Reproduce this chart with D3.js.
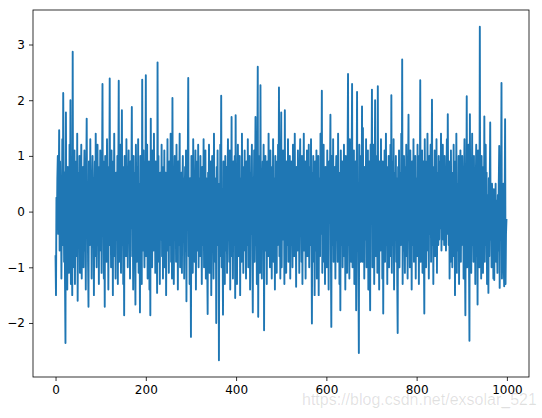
<!DOCTYPE html>
<html>
<head>
<meta charset="utf-8">
<script src="https://cdn.jsdelivr.net/npm/d3@7"></script>
<style>
  body { margin: 0; background: #fff; }
  svg text { font-family: "DejaVu Sans", sans-serif; }
</style>
</head>
<body>
<div id="vis"></div>
<script>
// values, 20 per row (index 0..999)
var series_values = [].concat(
  [-0.8,-1.5,0.25,-0.3,0.6,1.0,-0.4,0.3,1.46,-0.7,0.9,-0.2,0.4,-1.2,0.1,1.3,-0.6,2.13,0.5,-0.9],
  [0.7,-1.3,-2.36,1.78,-0.5,0.2,-1.4,0.8,-0.1,0.6,-1.1,1.2,-0.7,2.0,-1.3,0.4,-0.2,-1.5,2.87,-1.0],
  [0.3,-0.6,1.1,-1.3,0.5,-0.2,0.9,-0.8,1.4,-1.6,0.2,0.7,-0.4,1.0,-1.1,0.3,-0.5,1.2,-1.2,0.6],
  [-0.3,0.8,-1.0,0.4,1.1,-0.7,0.2,-1.4,0.6,1.67,-0.2,0.5,-0.9,-1.71,0.9,0.1,-0.6,1.3,-0.4,0.7],
  [-1.2,0.4,1.0,-0.3,0.6,-1.5,0.2,0.9,-0.8,1.4,-0.1,-1.0,0.5,1.2,-0.6,0.3,-1.3,0.8,-0.2,1.1],
  [-0.7,0.4,-1.1,0.6,2.29,-0.4,0.9,-1.2,0.3,-1.71,1.0,-0.5,0.7,-0.9,1.3,-0.2,0.5,-1.4,0.8,0.1],
  [2.39,-0.6,0.3,-1.0,1.1,-0.3,0.6,-1.5,0.9,-0.1,1.4,-0.8,0.2,-1.2,0.7,0.4,-0.5,1.0,-1.3,0.5],
  [2.35,-0.9,0.6,-0.4,1.2,-1.1,0.3,1.82,-0.6,0.8,-1.3,0.2,-1.86,1.0,-0.3,0.5,-0.8,1.3,-0.2,0.7],
  [-1.0,0.4,1.1,-0.5,0.2,-1.2,0.9,-0.3,0.6,1.88,-0.8,0.3,-1.4,1.0,-0.1,0.7,-0.6,-1.67,1.2,0.2],
  [-0.9,0.8,-0.3,1.3,-1.1,0.5,0.1,-1.81,1.0,-0.4,0.6,-1.3,2.37,-0.7,0.4,1.1,-0.2,-1.0,0.9,-0.5],
  [2.45,-0.8,0.3,1.2,-1.2,0.6,-0.3,0.9,-1.4,0.2,-1.86,1.67,-0.5,0.4,-1.0,1.1,0.1,-0.7,1.4,-0.2],
  [0.6,-1.1,0.9,-0.4,0.3,-1.46,2.68,-0.6,1.0,-0.9,0.4,-1.3,0.7,0.1,-0.5,1.2,-0.8,0.5,-1.2,0.8],
  [-0.3,1.1,-1.0,0.2,0.7,-1.5,0.4,-0.2,1.3,-0.7,0.5,-1.1,0.9,0.1,-0.6,1.4,-0.9,0.3,-1.2,2.04],
  [-0.5,0.8,-1.3,0.3,1.0,-0.4,0.6,-0.9,1.2,-0.2,0.4,-1.4,0.9,-0.6,0.2,1.4,-1.0,0.5,-0.3,0.7],
  [-1.1,0.3,1.0,-0.5,0.6,-1.2,0.1,0.8,-0.7,1.1,-1.61,0.5,-0.2,0.9,2.40,-0.8,0.3,-1.3,0.6,-0.4],
  [-2.25,1.0,-0.6,0.4,-1.1,1.3,-0.3,0.7,-0.9,0.2,1.1,-1.4,0.5,-0.2,0.9,-0.7,1.2,-1.0,0.3,0.6],
  [-0.8,1.0,-0.4,0.2,-1.3,0.8,0.4,-0.6,1.3,-1.0,0.3,-0.2,1.1,-1.2,0.6,0.1,-0.9,-1.84,0.7,-0.3],
  [1.2,-1.1,0.5,-0.4,0.9,-1.5,0.3,1.0,-0.7,0.2,-1.2,1.4,-0.3,0.6,-0.9,0.4,-2.0,0.8,-0.5,1.1],
  [-0.6,0.3,-2.67,0.5,-0.8,1.2,-0.2,2.08,-1.0,0.4,-0.4,-1.85,0.9,-0.1,0.6,-1.3,1.0,-0.7,0.2,0.8],
  [-1.1,0.5,1.3,-0.4,0.1,-0.9,1.1,-1.4,0.7,-0.3,1.70,-0.8,0.4,-1.2,0.9,0.2,-0.6,1.0,-1.55,1.73],
  [-0.5,0.7,-1.3,0.3,1.2,-0.8,0.5,-0.2,1.0,-1.5,0.6,0.1,-0.9,1.4,-0.4,0.8,-1.1,0.3,-0.3,1.1],
  [-0.7,0.5,-1.2,0.9,0.2,-0.6,1.3,-1.0,0.4,-0.1,1.0,-1.4,0.7,-0.4,0.3,1.2,-0.8,-1.81,0.6,-0.2],
  [1.1,-0.9,0.4,1.70,-0.6,0.2,-1.3,0.8,2.60,-1.89,0.5,-0.3,1.0,-1.1,2.27,-0.5,0.7,-1.2,0.3,0.9],
  [-0.4,1.2,-2.13,0.6,-0.7,1.0,-0.2,0.4,-1.3,0.9,0.1,-0.8,1.4,-0.5,0.3,-1.0,1.1,-0.3,0.6,-1.2],
  [0.8,-0.4,1.3,-0.9,0.2,0.6,-1.4,1.0,-0.1,0.5,-1.1,0.9,-0.6,1.2,-0.3,2.23,-0.8,0.4,-1.2,0.7],
  [1.78,-1.0,0.3,-0.5,1.1,-0.2,0.6,-1.3,1.82,-0.7,0.4,-1.1,0.9,0.1,-0.6,1.3,-0.9,0.5,-0.3,1.0],
  [-1.2,0.4,0.9,-0.6,0.2,-1.0,1.2,-0.3,0.6,-0.8,1.4,-0.5,0.3,-1.35,0.8,0.1,-0.7,1.1,-0.2,0.5],
  [-1.1,0.7,1.3,-0.4,0.3,-0.9,1.0,-1.3,0.5,-0.1,1.4,-0.7,0.2,0.9,-1.2,0.6,-0.4,1.1,-0.8,0.3],
  [-0.5,1.2,-1.0,0.4,0.8,-0.6,1.3,-0.2,-2.01,0.7,-0.9,1.0,-0.3,0.5,-1.5,0.9,0.2,-0.7,1.1,-1.2],
  [0.4,-0.3,1.0,-1.5,0.6,0.1,-0.8,1.4,-0.4,0.3,2.17,-1.1,0.7,-0.5,1.2,-0.9,0.2,-1.3,0.8,-0.1],
  [0.5,-1.0,1.1,-0.4,0.3,-1.4,0.9,-0.2,0.6,1.74,-0.7,-2.07,1.0,0.2,-0.6,1.3,-0.9,0.4,-0.3,0.8],
  [-1.2,0.6,1.0,-0.5,0.2,-0.9,1.4,-0.3,0.7,-1.3,0.4,-1.77,1.1,0.1,-0.6,0.9,-1.0,0.5,-0.2,1.2],
  [-0.8,0.3,-1.4,1.0,-0.4,0.6,-1.1,0.9,2.47,-0.6,0.2,-1.2,1.3,-0.3,0.5,-0.9,0.8,2.29,-1.0,0.4],
  [-0.5,1.1,-1.3,0.7,-0.2,0.9,-1.77,0.3,2.15,-0.7,0.5,-1.1,-2.54,1.2,-0.4,0.6,-0.9,1.0,-0.3,1.89],
  [-0.9,1.5,-0.6,0.4,-1.2,0.8,0.2,-0.5,1.3,-1.0,0.6,-0.3,1.1,-1.4,0.5,0.9,-0.8,-1.77,1.2,-0.2],
  [0.6,2.19,-1.0,0.4,-0.6,1.2,-1.3,0.3,2.0,-0.8,0.7,-0.2,1.0,-1.1,2.25,-0.5,0.4,-1.4,0.9,0.1],
  [-0.7,1.3,-0.4,0.6,-1.2,0.9,-1.83,0.5,-0.1,1.1,-0.9,0.3,1.4,-0.6,0.2,-1.3,0.8,-0.3,1.0,-1.0],
  [0.5,-0.5,1.2,-0.8,2.09,-1.1,0.4,0.9,-0.6,1.3,-1.4,0.2,0.7,-0.3,1.0,-0.9,0.6,-1.2,-2.18,0.8],
  [-0.4,1.1,-1.0,0.3,0.7,-0.6,1.4,-0.2,2.73,-1.3,0.5,-0.7,1.0,0.1,-1.1,0.8,-0.4,1.2,-0.8,0.4],
  [-1.2,0.6,1.74,-0.5,0.3,-1.0,1.1,-0.2,0.7,-1.4,0.9,0.2,-0.6,1.3,-0.9,0.4,-0.3,1.0,-1.2,0.6],
  [0.2,-0.8,1.2,-0.4,0.7,-1.3,1.0,-0.1,2.36,-0.9,0.5,-0.5,1.1,-1.1,0.3,0.9,-0.6,-1.83,1.3,-0.2],
  [0.6,-1.0,0.9,-0.3,1.4,-0.7,0.2,-1.2,1.0,-0.4,0.5,1.2,-0.9,0.3,2.01,-0.6,0.8,-1.3,0.4,-0.1],
  [1.1,-0.8,0.5,-0.4,1.3,-1.1,0.7,0.1,-0.6,1.0,-0.5,0.4,0.9,-0.3,1.4,-0.7,0.2,-0.4,1.2,-0.5],
  [0.3,-0.6,1.0,-0.2,0.8,-0.7,0.5,1.3,-0.4,1.75,0.2,-0.6,0.9,-1.2,0.4,-0.9,1.1,-0.3,0.6,-1.0],
  [0.7,-0.5,1.2,-0.8,0.3,-1.5,0.9,-0.2,1.4,-1.1,0.5,0.1,-0.7,1.0,-1.3,0.6,-0.4,1.1,-0.9,0.4],
  [-0.6,1.0,-0.3,0.8,-1.2,0.5,1.3,-0.7,-1.86,0.4,-0.2,2.07,-1.0,0.6,-0.5,1.2,-0.8,-2.32,1.75,-0.4],
  [0.9,-1.1,0.3,1.4,-0.6,0.2,-0.9,1.0,-0.3,0.7,-1.3,0.5,1.2,-0.8,0.4,-1.67,1.1,-0.2,0.6,-1.0],
  [3.32,-0.7,0.5,-1.2,1.0,-0.3,0.8,-1.1,0.4,-0.5,1.71,-0.9,0.2,1.2,-0.6,0.7,-1.3,0.3,-0.2,-1.46],
  [0.6,-0.8,0.4,1.6,-0.5,0.2,-1.0,0.5,-0.3,0.3,-1.2,0.4,-1.23,0.1,-0.6,0.5,-0.9,0.2,-0.4,-1.1],
  [0.3,-0.7,0.5,1.18,-1.37,0.2,-0.5,0.4,2.31,-1.2,0.3,-0.8,0.5,-1.0,-1.34,0.1,1.66,-1.3,-0.4,-0.15]
);

var x_ticks = [0, 200, 400, 600, 800, 1000];
var y_ticks = [-2, -1, 0, 1, 2, 3];

var margin = {top: 10, right: 13, bottom: 41, left: 33},
    width = 542 - margin.left - margin.right,
    height = 418 - margin.top - margin.bottom;

var svg = d3.select("#vis")
    .append("svg")
    .attr("width", 542)
    .attr("height", 418);

var g = svg.append("g")
    .attr("transform", "translate(" + margin.left + "," + margin.top + ")");

// matplotlib style 5% margins on both axes
var n = series_values.length;
var xPad = (n - 1) * 0.05;
var x = d3.scaleLinear()
    .domain([-xPad, n - 1 + xPad])
    .range([0, width]);

var ext = d3.extent(series_values);
var yPad = (ext[1] - ext[0]) * 0.05;
var y = d3.scaleLinear()
    .domain([ext[0] - yPad, ext[1] + yPad])
    .range([height, 0]);

var line = d3.line()
    .x(function(d, i) { return x(i); })
    .y(function(d) { return y(d); });

g.append("path")
    .datum(series_values)
    .attr("fill", "none")
    .attr("stroke", "#1f77b4")
    .attr("stroke-width", 1.9)
    .attr("stroke-linejoin", "round")
    .attr("stroke-linecap", "square")
    .attr("d", line);

// frame
g.append("rect")
    .attr("width", width)
    .attr("height", height)
    .attr("fill", "none")
    .attr("stroke", "#000")
    .attr("stroke-width", 0.8);

var minus = function(d) { return d < 0 ? "\u2212" + Math.abs(d) : String(d); };

var xAxis = g.append("g")
    .attr("transform", "translate(0," + height + ")")
    .call(d3.axisBottom(x).tickValues(x_ticks).tickSize(4).tickPadding(4).tickFormat(minus));

var yAxis = g.append("g")
    .call(d3.axisLeft(y).tickValues(y_ticks).tickSize(4).tickPadding(4).tickFormat(minus));

[xAxis, yAxis].forEach(function(a) {
  a.select(".domain").remove();
  a.selectAll(".tick line").attr("stroke", "#000").attr("stroke-width", 0.8);
  a.selectAll(".tick text")
    .attr("fill", "#000")
    .style("font-size", "12px")
    .style("font-family", "'DejaVu Sans', sans-serif");
});

// watermark
svg.append("text")
    .attr("x", 302)
    .attr("y", 405)
    .style("font-family", "'Liberation Sans', Arial, sans-serif")
    .style("font-size", "16px")
    .attr("fill", "#000")
    .attr("fill-opacity", 0.12)
    .text("https://blog.csdn.net/exsolar_521");
</script>
</body>
</html>
